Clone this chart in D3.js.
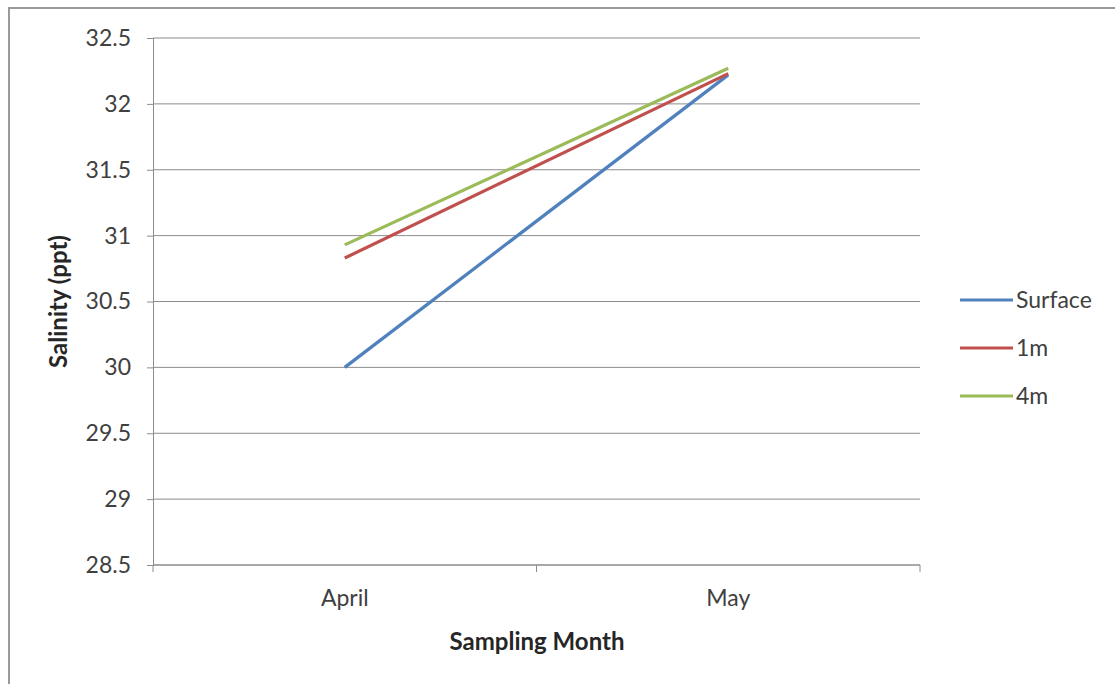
<!DOCTYPE html>
<html><head><meta charset="utf-8">
<script src="https://cdn.jsdelivr.net/npm/d3@7"></script>
<style>body{margin:0;background:#fff}svg{display:block;font-family:Lato,"Open Sans",sans-serif}</style>
</head><body>
<svg id="c" width="1115" height="684"></svg>
<script>
const categories = ["April", "May"];
const seriesNames = ["Surface", "1m", "4m"];
const surface = [30.0, 32.22];
const m1 = [30.83, 32.23];
const m4 = [30.93, 32.27];
const yTicks = [28.5, 29, 29.5, 30, 30.5, 31, 31.5, 32, 32.5];
const colors = ["#4F81BD", "#C0504D", "#9BBB59"];

const svg = d3.select("#c");
const L = 153, R = 920, T = 38, B = 565;
const FS = 23;

svg.append("rect").attr("x", 9).attr("y", 8).attr("width", 1110).attr("height", 690)
  .attr("fill", "#fff").attr("stroke", "#9a9a9a").attr("stroke-width", 2);

const x = d3.scaleBand().domain(categories).range([L, R]);
const y = d3.scaleLinear().domain([28.5, 32.5]).range([B, T]);

// gridlines
svg.append("g").selectAll("line").data(yTicks).join("line")
  .attr("x1", L).attr("x2", R).attr("y1", d => y(d)).attr("y2", d => y(d))
  .attr("stroke", "#8c8c8c").attr("stroke-width", 1);

// y axis
const ya = svg.append("g").attr("transform", `translate(${L},0)`)
  .call(d3.axisLeft(y).tickValues(yTicks).tickSize(6).tickPadding(16).tickFormat(d => d3.format("")(d)));
ya.select(".domain").attr("stroke", "#8c8c8c");
ya.selectAll(".tick line").attr("stroke", "#8c8c8c");
ya.selectAll("text").attr("font-size", FS).attr("fill", "#404040").attr("font-family", "Lato");

// x axis
svg.append("line").attr("x1", L).attr("x2", R).attr("y1", B).attr("y2", B).attr("stroke", "#8c8c8c");
const xt = [L, ...categories.map((c, i) => x(c) + x.bandwidth())];
svg.append("g").selectAll("line").data(xt).join("line")
  .attr("x1", d => d).attr("x2", d => d).attr("y1", B).attr("y2", B + 7).attr("stroke", "#8c8c8c");
svg.append("g").selectAll("text").data(categories).join("text")
  .attr("x", d => x(d) + x.bandwidth() / 2).attr("y", 606).attr("text-anchor", "middle")
  .attr("font-size", FS).attr("fill", "#404040").text(d => d);

// titles
svg.append("text").attr("x", 537).attr("y", 650).attr("text-anchor", "middle")
  .attr("font-size", 24).attr("font-weight", "bold").attr("fill", "#262626").text("Sampling Month");
svg.append("text").attr("transform", `translate(67,${(T + B) / 2}) rotate(-90)`).attr("text-anchor", "middle")
  .attr("font-size", 24).attr("font-weight", "bold").attr("fill", "#262626").text("Salinity (ppt)");

// lines
const data = [surface, m1, m4];
const line = d3.line().x((d, i) => x(categories[i]) + x.bandwidth() / 2).y(d => y(d));
svg.append("g").selectAll("path").data(data).join("path")
  .attr("d", d => line(d)).attr("fill", "none")
  .attr("stroke", (d, i) => colors[i]).attr("stroke-width", 3.2);

// legend
const lg = svg.append("g").selectAll("g").data(seriesNames).join("g")
  .attr("transform", (d, i) => `translate(960,${300 + i * 48})`);
lg.append("line").attr("x1", 0).attr("x2", 53).attr("y1", 0).attr("y2", 0)
  .attr("stroke", (d, i) => colors[i]).attr("stroke-width", 3.2);
lg.append("text").attr("x", 56).attr("y", 8).attr("font-size", FS).attr("fill", "#404040").text(d => d);
</script>
</body></html>
